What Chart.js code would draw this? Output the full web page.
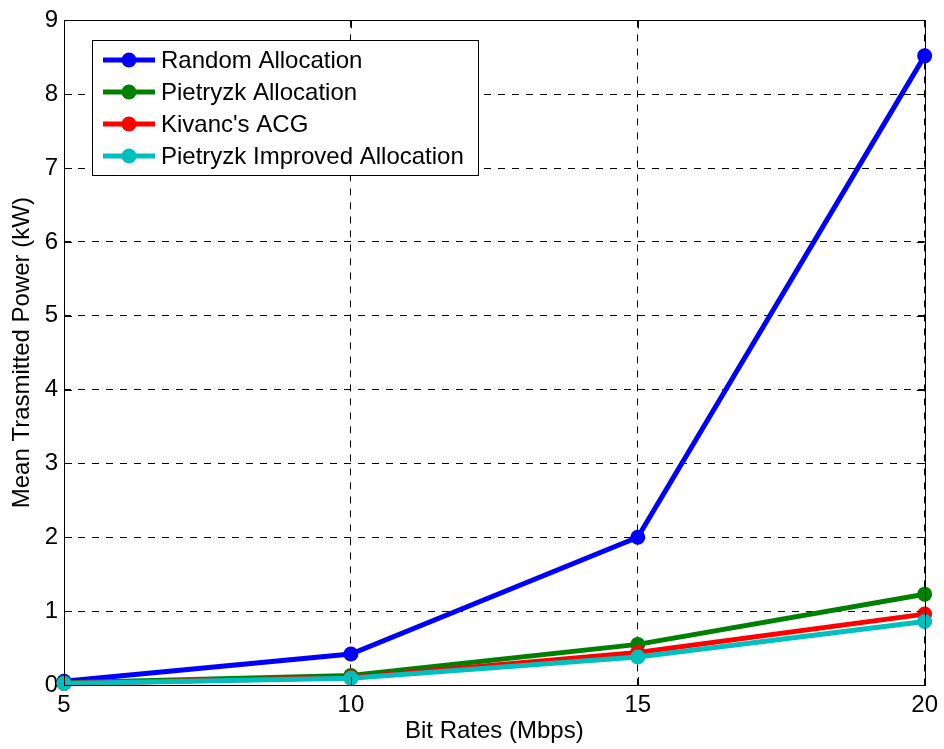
<!DOCTYPE html>
<html>
<head>
<meta charset="utf-8">
<script src="https://cdn.jsdelivr.net/npm/chart.js@4/dist/chart.umd.min.js"></script>
<style>
  html, body { margin: 0; padding: 0; background: #fff; }
  #wrap { width: 944px; height: 749px; }
</style>
</head>
<body>
<div id="wrap"><canvas id="powerChart" width="944" height="749"></canvas></div>
<script>
// データ
const bitRates = [5, 10, 15, 20];
const seriesNames = ['Random Allocation', 'Pietryzk Allocation', "Kivanc's ACG", 'Pietryzk Improved Allocation'];
const randomAlloc = [0.05, 0.42, 2.0, 8.52];
const pietryzkAlloc = [0.03, 0.13, 0.55, 1.23];
const kivancACG = [0.02, 0.10, 0.44, 0.96];
const pietryzkImproved = [0.02, 0.09, 0.38, 0.86];
const yTicks = [0, 1, 2, 3, 4, 5, 6, 7, 8, 9];
const seriesColors = ['#0000ff', '#008000', '#ff0000', '#00bfbf'];

const FONT = '"Liberation Sans", Arial, sans-serif';
const FONT_SIZE = 24;

const toPoints = vals => vals.map((v, i) => ({ x: bitRates[i], y: v }));

// 枠・内向き目盛り・凡例を描くプラグイン（MATLAB 風）
const matlabFrame = {
  id: 'matlabFrame',
  afterDatasetsDraw(chart) {
    const { ctx, chartArea: a, scales: { x, y } } = chart;
    ctx.save();
    ctx.strokeStyle = '#000';
    ctx.lineWidth = 1;
    ctx.setLineDash([]);
    // 目盛り
    ctx.beginPath();
    bitRates.forEach(v => {
      const px = Math.round(x.getPixelForValue(v)) + 0.5;
      ctx.moveTo(px, a.bottom); ctx.lineTo(px, a.bottom - 8);
      ctx.moveTo(px, a.top); ctx.lineTo(px, a.top + 8);
    });
    yTicks.forEach(v => {
      const py = Math.round(y.getPixelForValue(v)) + 0.5;
      ctx.moveTo(a.left, py); ctx.lineTo(a.left + 8, py);
      ctx.moveTo(a.right, py); ctx.lineTo(a.right - 8, py);
    });
    ctx.stroke();
    ctx.strokeRect(Math.round(a.left) + 0.5, Math.round(a.top) + 0.5,
      Math.round(a.right - a.left), Math.round(a.bottom - a.top));

    // 凡例
    const bx = 92.5, by = 40.5, bw = 386, bh = 135;
    ctx.fillStyle = '#fff';
    ctx.fillRect(bx, by, bw, bh);
    ctx.strokeRect(bx, by, bw, bh);
    ctx.font = FONT_SIZE + 'px ' + FONT;
    ctx.textBaseline = 'middle';
    chart.data.datasets.forEach((ds, i) => {
      const ry = 60 + i * 32;
      ctx.strokeStyle = ds.borderColor;
      ctx.lineWidth = 5;
      ctx.beginPath();
      ctx.moveTo(103, ry); ctx.lineTo(155, ry);
      ctx.stroke();
      ctx.fillStyle = ds.borderColor;
      ctx.beginPath();
      ctx.arc(129, ry, 7.5, 0, Math.PI * 2);
      ctx.fill();
      ctx.fillStyle = '#000';
      ctx.fillText(ds.label, 161, ry + 1);
    });
    ctx.restore();
  }
};

const seriesData = [randomAlloc, pietryzkAlloc, kivancACG, pietryzkImproved];

const chart = new Chart(document.getElementById('powerChart'), {
  type: 'line',
  data: {
    datasets: seriesData.map((vals, i) => ({
      label: seriesNames[i],
      data: toPoints(vals),
      borderColor: seriesColors[i],
      backgroundColor: seriesColors[i],
      borderWidth: 5,
      pointRadius: 7.5,
      pointHoverRadius: 7.5,
      pointBorderWidth: 0,
      order: seriesData.length - i,
      tension: 0,
      clip: false
    }))
  },
  options: {
    responsive: false,
    animation: false,
    events: [],
    layout: { padding: { top: 17, right: 17, left: 0, bottom: 0 } },
    plugins: { legend: { display: false }, tooltip: { enabled: false } },
    scales: {
      x: {
        type: 'linear',
        min: 5, max: 20,
        afterFit: s => { s.height = 64; },
        ticks: { stepSize: 5, color: '#000', font: { family: FONT, size: FONT_SIZE }, padding: 6, maxRotation: 0 },
        grid: { color: '#000', drawTicks: false, lineWidth: 1 },
        border: { display: false, dash: [7, 7] },
        title: { display: true, text: 'Bit Rates (Mbps)', color: '#000', font: { family: FONT, size: FONT_SIZE }, padding: { top: 0, bottom: 3 } }
      },
      y: {
        type: 'linear',
        min: 0, max: 9,
        afterFit: s => { s.width = 64; },
        afterBuildTicks: s => { s.ticks = yTicks.map(v => ({ value: v })); },
        ticks: { color: '#000', font: { family: FONT, size: FONT_SIZE }, padding: 6 },
        grid: { color: '#000', drawTicks: false, lineWidth: 1 },
        border: { display: false, dash: [7, 7] },
        title: { display: true, text: 'Mean Trasmitted Power (kW)', color: '#000', font: { family: FONT, size: FONT_SIZE }, padding: { top: 8, bottom: 0 } }
      }
    }
  },
  plugins: [matlabFrame]
});
</script>
</body>
</html>
